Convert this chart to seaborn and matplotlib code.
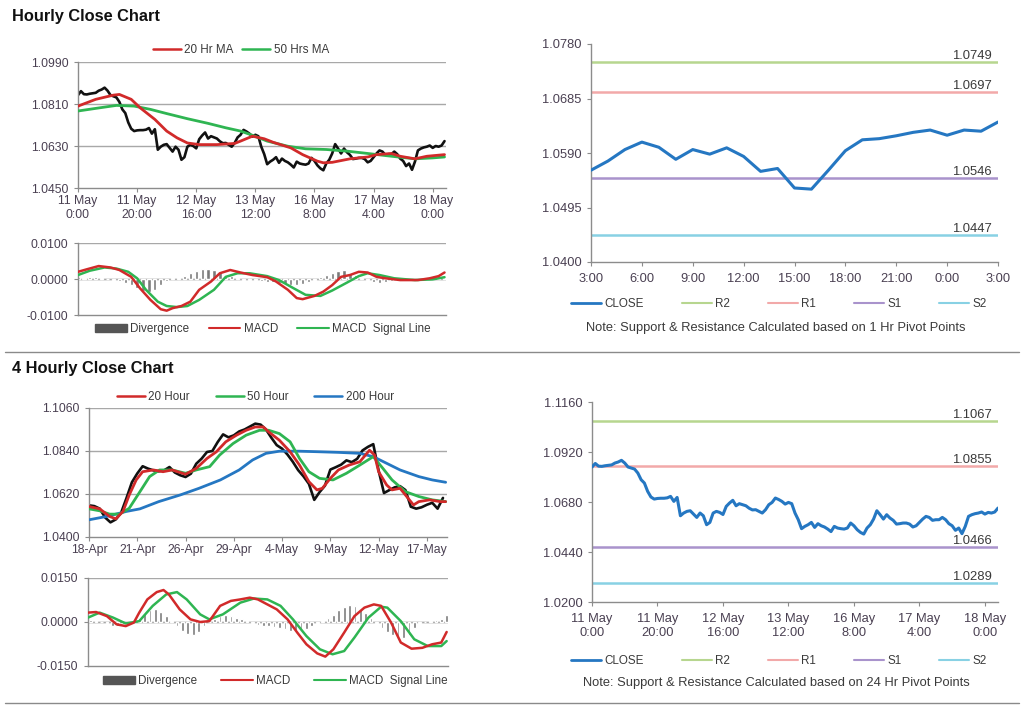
import matplotlib
matplotlib.use("Agg")
import matplotlib.pyplot as plt
import seaborn as sns
import numpy as np
from matplotlib.lines import Line2D
from matplotlib.patches import Patch
import matplotlib.transforms as mtransforms

sns.set_theme(style="white")
plt.rcParams['font.family'] = ['Liberation Sans', 'DejaVu Sans']

# ---------------- DATA ----------------
HOURLY_TICK_LABELS = ['11 May\n0:00', '11 May\n20:00', '12 May\n16:00', '13 May\n12:00',
                      '16 May\n8:00', '17 May\n4:00', '18 May\n0:00']
HOURLY_CLOSE = [1.0848, 1.0865, 1.0852, 1.0851, 1.0854, 1.0856, 1.0858, 1.0867, 1.0872, 1.0880,
                1.0867, 1.0848, 1.0843, 1.0838, 1.0819, 1.0787, 1.0771, 1.0731, 1.0704, 1.0694,
                1.0697, 1.0698, 1.0698, 1.0700, 1.0707, 1.0683, 1.0702, 1.0614, 1.0627, 1.0635,
                1.0638, 1.0622, 1.0606, 1.0627, 1.0614, 1.0571, 1.0582, 1.0627, 1.0635, 1.0630,
                1.0620, 1.0659, 1.0675, 1.0688, 1.0662, 1.0672, 1.0667, 1.0662, 1.0650, 1.0642,
                1.0643, 1.0635, 1.0627, 1.0643, 1.0667, 1.0678, 1.0699, 1.0692, 1.0683, 1.0670,
                1.0678, 1.0672, 1.0627, 1.0595, 1.0552, 1.0563, 1.0571, 1.0582, 1.0558, 1.0576,
                1.0566, 1.0560, 1.0550, 1.0538, 1.0563, 1.0555, 1.0552, 1.0550, 1.0555, 1.0579,
                1.0566, 1.0547, 1.0534, 1.0526, 1.0555, 1.0571, 1.0598, 1.0638, 1.0619, 1.0598,
                1.0619, 1.0603, 1.0592, 1.0574, 1.0576, 1.0579, 1.0579, 1.0574, 1.0560, 1.0566,
                1.0582, 1.0598, 1.0611, 1.0606, 1.0592, 1.0595, 1.0595, 1.0606, 1.0595, 1.0576,
                1.0566, 1.0544, 1.0555, 1.0528, 1.0563, 1.0611, 1.0619, 1.0624, 1.0627, 1.0632,
                1.0622, 1.0630, 1.0627, 1.0632, 1.0651]

H_MA20_X = [0, 6, 12, 14, 18, 21, 26, 30, 33.5, 37, 41, 47, 53, 55, 59, 63, 66, 72, 76, 81,
            83, 86, 92, 98, 101, 106, 109, 114, 118, 124]
H_MA20 = [1.0801, 1.0830, 1.0848, 1.0851, 1.0830, 1.0794, 1.0744, 1.0694, 1.0665, 1.0643,
          1.0636, 1.0636, 1.0641, 1.0651, 1.0672, 1.0661, 1.0646, 1.0622, 1.0593, 1.0565,
          1.0558, 1.0560, 1.0575, 1.0583, 1.0593, 1.0598, 1.0586, 1.0575, 1.0586, 1.0593]
H_MA50_X = [0, 7.5, 13, 19, 24.5, 30, 37, 44, 50, 55, 59, 64, 71, 77, 84, 91, 98, 104, 114, 120, 124]
H_MA50 = [1.0780, 1.0794, 1.0804, 1.0801, 1.0787, 1.0769, 1.0747, 1.0727, 1.0708, 1.0694,
          1.0676, 1.0651, 1.0629, 1.0618, 1.0615, 1.0608, 1.0598, 1.0589, 1.0575, 1.0579, 1.0583]

H_MACD_X = [0, 3, 7, 11, 14, 18, 21, 24.5, 28, 30, 32, 35, 38, 41, 45, 48, 51.5, 55, 59, 64,
            67, 71, 74, 76, 80, 83, 86, 89, 92, 95, 98, 101, 104, 109, 115, 119, 122, 124]
H_MACD = [0.0020, 0.0027, 0.0036, 0.0032, 0.0025, 0.0006, -0.0026, -0.0058, -0.0084, -0.0088,
          -0.0081, -0.0075, -0.0063, -0.0030, -0.0007, 0.0016, 0.0025, 0.0018, 0.0011, 0.0005,
          -0.0007, -0.0030, -0.0053, -0.0056, -0.0047, -0.0035, -0.0017, 0.0006, 0.0011, 0.0020,
          0.0018, 0.0006, 0.0002, -0.0003, -0.0003, 0.0002, 0.0008, 0.0018]
H_SIG_X = [0, 4, 9, 13, 17, 20, 23, 27, 30, 33.5, 37, 41, 46, 50, 54, 58, 64, 68, 73, 77,
           82, 86, 91, 95, 98, 102, 107, 114, 120, 124]
H_SIG = [0.0011, 0.0023, 0.0032, 0.0029, 0.0020, 0.0002, -0.0030, -0.0063, -0.0075, -0.0078,
         -0.0075, -0.0058, -0.0030, 0.0006, 0.0016, 0.0016, 0.0008, -0.0003, -0.0026, -0.0044,
         -0.0047, -0.0032, -0.0010, 0.0008, 0.0016, 0.0011, 0.0002, -0.0003, -0.0001, 0.0005]
# divergence, every 2 hours from hour 0
H_DIV = [0.0006, 0.0004, 0.0005, 0.0005, 0.0002, -0.0001, -0.0003, -0.0005, -0.0010, -0.0016,
         -0.0025, -0.0033, -0.0037, -0.0030, -0.0018, -0.0005, 0.0002, 0.0004, 0.0008, 0.0016,
         0.0022, 0.0027, 0.0027, 0.0025, 0.0020, 0.0012, 0.0007, 0.0002, -0.0002, -0.0003,
         -0.0004, -0.0005, -0.0007, -0.0009, -0.0012, -0.0014, -0.0016, -0.0017, -0.0014, -0.0008,
         -0.0002, 0.0006, 0.0012, 0.0018, 0.0023, 0.0024, 0.0018, 0.0010, 0.0004, -0.0003,
         -0.0007, -0.0010, -0.0009, -0.0005, -0.0002, -0.0001, 0.0000, 0.0001, 0.0001, 0.0002,
         0.0002, 0.0002, 0.0003]

ONEH_TICK_LABELS = ['3:00', '6:00', '9:00', '12:00', '15:00', '18:00', '21:00', '0:00', '3:00']
ONEH_CLOSE = [1.0560, 1.0576, 1.0596, 1.0609, 1.0600, 1.0579, 1.0596, 1.0588, 1.0599, 1.0584,
              1.0558, 1.0563, 1.0529, 1.0527, 1.0560, 1.0594, 1.0613, 1.0615, 1.0620, 1.0626,
              1.0630, 1.0621, 1.0630, 1.0628, 1.0644]
PIVOT_NAMES = ['R2', 'R1', 'S1', 'S2']
PIVOT_1H = [1.0749, 1.0697, 1.0546, 1.0447]
PIVOT_24H = [1.1067, 1.0855, 1.0466, 1.0289]

FOURH_TICK_LABELS = ['18-Apr', '21-Apr', '26-Apr', '29-Apr', '4-May', '9-May', '12-May', '17-May']
# 4-hour close, every 2 bars from bar 0
FOURH_CLOSE = [1.0562, 1.0558, 1.0545, 1.0500, 1.0475, 1.0490, 1.0525, 1.0600, 1.0680, 1.0725,
               1.0762, 1.0750, 1.0741, 1.0736, 1.0741, 1.0758, 1.0730, 1.0716, 1.0707, 1.0724,
               1.0775, 1.0801, 1.0835, 1.0840, 1.0886, 1.0925, 1.0910, 1.0920, 1.0940, 1.0950,
               1.0965, 1.0980, 1.0975, 1.0950, 1.0908, 1.0870, 1.0852, 1.0822, 1.0785, 1.0742,
               1.0710, 1.0672, 1.0590, 1.0630, 1.0663, 1.0745, 1.0757, 1.0770, 1.0792, 1.0783,
               1.0800, 1.0843, 1.0861, 1.0875, 1.0740, 1.0625, 1.0640, 1.0654, 1.0660, 1.0640,
               1.0555, 1.0545, 1.0552, 1.0565, 1.0575, 1.0545, 1.0600]
F_MA20_X = [0, 4, 7.7, 10, 12.7, 15, 17.6, 20, 24, 27.6, 31, 36, 40, 44, 47.5, 51, 55, 58.6, 62, 65,
            67, 71, 75, 78.5, 82, 85, 87, 90, 93, 97, 101, 104.6, 106.5, 108, 111, 113, 116, 118,
            121, 123, 127, 131, 133]
F_MA20 = [1.0556, 1.0544, 1.0505, 1.0493, 1.0531, 1.0615, 1.0692, 1.0734, 1.0743, 1.0734,
          1.0743, 1.0721, 1.0751, 1.0802, 1.0836, 1.0887, 1.0921, 1.0946, 1.0963, 1.0963,
          1.0938, 1.0895, 1.0836, 1.0768, 1.0683, 1.0641, 1.0649, 1.0700, 1.0743, 1.0768,
          1.0785, 1.0844, 1.0819, 1.0734, 1.0666, 1.0641, 1.0649, 1.0615, 1.0564, 1.0581,
          1.0590, 1.0581, 1.0581]
F_MA50_X = [0, 4, 7.7, 11.4, 15, 19, 22.6, 26.3, 31, 36, 40, 45, 48.7, 53.7, 58.6, 63.6, 67, 71,
            75, 78.5, 82, 86, 91, 96, 101, 106, 109.6, 113, 118, 123, 128, 133]
F_MA50 = [1.0544, 1.0534, 1.0517, 1.0517, 1.0547, 1.0632, 1.0709, 1.0743, 1.0743, 1.0726,
          1.0743, 1.0760, 1.0819, 1.0878, 1.0921, 1.0946, 1.0946, 1.0929, 1.0887, 1.0802,
          1.0734, 1.0700, 1.0692, 1.0726, 1.0768, 1.0811, 1.0751, 1.0692, 1.0632, 1.0607,
          1.0590, 1.0581]
F_MA200_X = [0, 6.5, 14, 19, 26, 34, 41, 49, 56, 61, 66, 71, 78.5, 86, 93, 101, 106, 111, 116,
             123, 128, 133]
F_MA200 = [1.0488, 1.0505, 1.0531, 1.0544, 1.0581, 1.0615, 1.0649, 1.0692, 1.0743, 1.0794,
           1.0828, 1.0839, 1.0839, 1.0836, 1.0833, 1.0828, 1.0811, 1.0777, 1.0743, 1.0709,
           1.0692, 1.0680]

F_MACD_X = [0, 3, 7, 10.6, 14, 17, 19, 22, 25.5, 28, 30, 34, 38, 41.6, 45, 49, 53, 56.5, 60, 63,
            66.5, 70, 74, 77.6, 81, 85, 88, 91, 95, 98.8, 102.5, 106, 108.7, 112.4, 116, 120,
            124, 127.6, 131, 133]
F_MACD = [0.0032, 0.0034, 0.0020, -0.0008, -0.0014, -0.0002, 0.0032, 0.0077, 0.0102, 0.0109,
          0.0094, 0.0043, 0.0009, 0.0000, 0.0003, 0.0055, 0.0072, 0.0077, 0.0083, 0.0077,
          0.0060, 0.0043, 0.0009, -0.0036, -0.0076, -0.0107, -0.0118, -0.0093, -0.0036, 0.0020,
          0.0049, 0.0060, 0.0055, -0.0002, -0.0070, -0.0091, -0.0088, -0.0076, -0.0070, -0.0034]
F_SIG_X = [0, 4.3, 9.3, 14, 19, 24, 29, 33, 36.6, 41.6, 45, 50, 56.5, 61.5, 66.5, 71.4, 76, 81,
           86, 90.7, 95, 98.8, 104, 108.7, 111, 116, 121, 126, 131, 133]
F_SIG = [0.0015, 0.0032, 0.0015, -0.0005, 0.0003, 0.0055, 0.0094, 0.0102, 0.0077, 0.0026,
         0.0009, 0.0026, 0.0066, 0.0080, 0.0077, 0.0055, 0.0009, -0.0048, -0.0093, -0.0110,
         -0.0099, -0.0053, 0.0015, 0.0052, 0.0049, 0.0003, -0.0059, -0.0082, -0.0082, -0.0065]
# divergence, every 2 bars from bar 1
F_DIV = [0.0007, 0.0003, 0.0000, -0.0005, -0.0012, -0.0015, -0.0008, -0.0002, 0.0005, 0.0015,
         0.0030, 0.0042, 0.0045, 0.0035, 0.0020, 0.0005, -0.0015, -0.0030, -0.0040, -0.0043,
         -0.0035, -0.0015, 0.0000, 0.0010, 0.0020, 0.0025, 0.0020, 0.0015, 0.0010, 0.0005,
         -0.0002, -0.0010, -0.0015, -0.0015, -0.0018, -0.0020, -0.0025, -0.0030, -0.0030, -0.0030,
         -0.0025, -0.0015, -0.0005, 0.0003, 0.0012, 0.0025, 0.0040, 0.0052, 0.0057, 0.0055,
         0.0045, 0.0030, 0.0015, -0.0005, -0.0020, -0.0035, -0.0045, -0.0050, -0.0055, -0.0045,
         -0.0020, -0.0005, 0.0000, 0.0005, 0.0008, 0.0010, 0.0025]

# ---------------- STYLE ----------------
RED = '#d12a2a'
GREEN = '#2fb552'
BLUE = '#2577c2'
BLACK = '#111111'
GRID = '#a8a8a8'
SPINE = '#8c8c8c'
TICKC = '#4a4052'
TEXTC = '#3a3a3a'
DIVC = '#7a7a7a'
PIVOT_COLORS = ['#b7d68f', '#f2a9a9', '#a993cc', '#88d1e4']
FS_L = 8.8      # left panels tick labels
FS_R = 9.3      # right panels tick labels
FS_LEG = 8.4

fig = plt.figure(figsize=(10.24, 7.06), dpi=100)
W, H = 1024.0, 706.0


def add_ax(x0, y0, x1, y1):
    return fig.add_axes([x0 / W, 1 - y1 / H, (x1 - x0) / W, (y1 - y0) / H])


def style(ax, yticks, fmt, fs, grid=True, xlim=None):
    ax.set_ylim(yticks[0], yticks[-1])
    ax.set_yticks(yticks)
    ax.set_yticklabels([fmt.format(v) for v in yticks])
    if xlim is not None:
        ax.set_xlim(*xlim)
    for s in ['top', 'right']:
        ax.spines[s].set_visible(False)
    for s in ['left', 'bottom']:
        ax.spines[s].set_color(SPINE)
        ax.spines[s].set_linewidth(1.0)
    ax.tick_params(axis='both', which='both', direction='out', length=3, width=0.8,
                   color=SPINE, labelsize=fs, labelcolor=TICKC, pad=2)
    ax.tick_params(axis='y', left=True, pad=4)
    ax.tick_params(axis='x', bottom=True)
    if grid:
        for v in yticks[1:]:
            ax.axhline(v, color=GRID, lw=1.0, zorder=0)
    ax.set_xlabel('')
    ax.set_ylabel('')
    ax.patch.set_alpha(0)


def legend(handles, labels, x0, x1, cy, hl=2.4):
    fig.legend(handles, labels, loc='center',
               bbox_to_anchor=(x0 / W, 1 - cy / H - 0.01, (x1 - x0) / W, 0.02),
               mode='expand', borderaxespad=0, borderpad=0,
               ncol=len(handles), frameon=False, fontsize=FS_LEG, handlelength=hl,
               handletextpad=0.3, labelcolor=TEXTC)


hours = np.arange(len(HOURLY_CLOSE))
hour_ticks = np.arange(0, 20 * len(HOURLY_TICK_LABELS), 20)

# ---------- Titles ----------
fig.text(12 / W, 1 - 16 / H, 'Hourly Close Chart', fontsize=11.8, fontweight='bold',
         color='#111111', va='center', ha='left')
fig.text(12 / W, 1 - 369 / H, '4 Hourly Close Chart', fontsize=11.8, fontweight='bold',
         color='#111111', va='center', ha='left')
for yy in [352, 703]:
    fig.add_artist(Line2D([0.005, 0.995], [1 - yy / H, 1 - yy / H], transform=fig.transFigure,
                          color='#8a8a8a', lw=1.0))

# ---------- Top-left price ----------
ax1 = add_ax(78, 62, 446, 188)
sns.lineplot(x=hours, y=HOURLY_CLOSE, ax=ax1, color=BLACK, linewidth=1.9, zorder=2)
sns.lineplot(x=H_MA50_X, y=H_MA50, ax=ax1, color=GREEN, linewidth=2.0, zorder=3)
sns.lineplot(x=H_MA20_X, y=H_MA20, ax=ax1, color=RED, linewidth=2.0, zorder=4)
style(ax1, [1.0450, 1.0630, 1.0810, 1.0990], '{:.4f}', FS_L, xlim=(0, 124.5))
ax1.set_xticks(hour_ticks)
ax1.set_xticklabels(HOURLY_TICK_LABELS)
legend([Line2D([], [], color=RED, lw=1.8), Line2D([], [], color=GREEN, lw=1.8)],
       ['20 Hr MA', '50 Hrs MA'], 153, 329, 50)

# ---------- Top-left MACD ----------
ax2 = add_ax(78, 243, 446, 315)
div_x = np.arange(0, 2 * len(H_DIV), 2)
ax2.bar(div_x, H_DIV, width=1.1, color=DIVC, zorder=2)
sns.lineplot(x=H_SIG_X, y=H_SIG, ax=ax2, color=GREEN, linewidth=1.8, zorder=3)
sns.lineplot(x=H_MACD_X, y=H_MACD, ax=ax2, color=RED, linewidth=1.8, zorder=4)
style(ax2, [-0.0100, 0.0000, 0.0100], '{:.4f}', FS_L, xlim=(0, 124.5))
ax2.axhline(0, color=GRID, lw=1.0, zorder=1)
ax2.set_xticks([])
legend([Patch(color='#555555'), Line2D([], [], color=RED, lw=1.5), Line2D([], [], color=GREEN, lw=1.5)],
       ['Divergence', 'MACD', 'MACD  Signal Line'], 95, 431, 329, hl=2.7)

# ---------- Pivot panels ----------
def pivot_panel(ax, xs, ys, levels, yticks, lw):
    for lv, c in zip(levels, PIVOT_COLORS):
        ax.axhline(lv, color=c, lw=1.8, zorder=1)
        ax.text(0.985, lv, '{:.4f}'.format(lv), transform=mtransforms.blended_transform_factory(
            ax.transAxes, ax.transData), ha='right', va='bottom', fontsize=9.4, color=TEXTC,
            zorder=1)
    sns.lineplot(x=xs, y=ys, ax=ax, color=BLUE, linewidth=lw, zorder=3)
    style(ax, yticks, '{:.4f}', FS_R, grid=False)
    ax.tick_params(axis='x', pad=5)


pivot_handles = [Line2D([], [], color=BLUE, lw=2)] + [Line2D([], [], color=c, lw=1.5) for c in PIVOT_COLORS]
pivot_labels = ['CLOSE'] + PIVOT_NAMES

ax3 = add_ax(591, 44, 998, 262)
oneh_x = np.arange(len(ONEH_CLOSE))
pivot_panel(ax3, oneh_x, ONEH_CLOSE, PIVOT_1H, [1.0400, 1.0495, 1.0590, 1.0685, 1.0780], 2.2)
ax3.set_xlim(0, 24)
ax3.set_xticks(np.arange(0, 3 * len(ONEH_TICK_LABELS), 3))
ax3.set_xticklabels(ONEH_TICK_LABELS)
legend(pivot_handles, pivot_labels, 571, 987, 304, hl=2.6)
fig.text(776 / W, 1 - 328 / H, 'Note: Support & Resistance Calculated based on 1 Hr Pivot Points',
         fontsize=9.3, color=TEXTC, ha='center', va='center')

ax6 = add_ax(592, 402, 998, 602)
pivot_panel(ax6, hours, HOURLY_CLOSE, PIVOT_24H, [1.0200, 1.0440, 1.0680, 1.0920, 1.1160], 2.2)
ax6.set_xlim(0, 124)
ax6.set_xticks(hour_ticks)
ax6.set_xticklabels(HOURLY_TICK_LABELS)
legend(pivot_handles, pivot_labels, 571, 987, 661, hl=2.6)
fig.text(776 / W, 1 - 683 / H, 'Note: Support & Resistance Calculated based on 24 Hr Pivot Points',
         fontsize=9.3, color=TEXTC, ha='center', va='center')

# ---------- Bottom-left price ----------
ax4 = add_ax(89, 408, 447, 537)
bars = np.arange(0, 2 * len(FOURH_CLOSE), 2)
sns.lineplot(x=bars, y=FOURH_CLOSE, ax=ax4, color=BLACK, linewidth=1.9, zorder=2)
sns.lineplot(x=F_MA200_X, y=F_MA200, ax=ax4, color=BLUE, linewidth=2.0, zorder=3)
sns.lineplot(x=F_MA50_X, y=F_MA50, ax=ax4, color=GREEN, linewidth=2.0, zorder=4)
sns.lineplot(x=F_MA20_X, y=F_MA20, ax=ax4, color=RED, linewidth=2.0, zorder=5)
style(ax4, [1.0400, 1.0620, 1.0840, 1.1060], '{:.4f}', FS_L, xlim=(0, 133.5))
ax4.set_xticks(np.arange(0, 18 * len(FOURH_TICK_LABELS), 18))
ax4.set_xticklabels(FOURH_TICK_LABELS)
legend([Line2D([], [], color=RED, lw=1.8), Line2D([], [], color=GREEN, lw=1.8),
        Line2D([], [], color=BLUE, lw=1.8)],
       ['20 Hour', '50 Hour', '200 Hour'], 117, 394, 397)

# ---------- Bottom-left MACD ----------
ax5 = add_ax(88, 578, 448, 666)
fdiv_x = np.arange(1, 1 + 2 * len(F_DIV), 2)
ax5.bar(fdiv_x, F_DIV, width=1.0, color=DIVC, zorder=2)
sns.lineplot(x=F_SIG_X, y=F_SIG, ax=ax5, color=GREEN, linewidth=1.8, zorder=3)
sns.lineplot(x=F_MACD_X, y=F_MACD, ax=ax5, color=RED, linewidth=1.8, zorder=4)
style(ax5, [-0.0150, 0.0000, 0.0150], '{:.4f}', FS_L, xlim=(0, 133.5))
ax5.axhline(0, color=GRID, lw=1.0, zorder=1)
ax5.set_xticks([])
legend([Patch(color='#555555'), Line2D([], [], color=RED, lw=1.5), Line2D([], [], color=GREEN, lw=1.5)],
       ['Divergence', 'MACD', 'MACD  Signal Line'], 103, 448, 681, hl=2.7)

fig.savefig('out.png', dpi=100)
